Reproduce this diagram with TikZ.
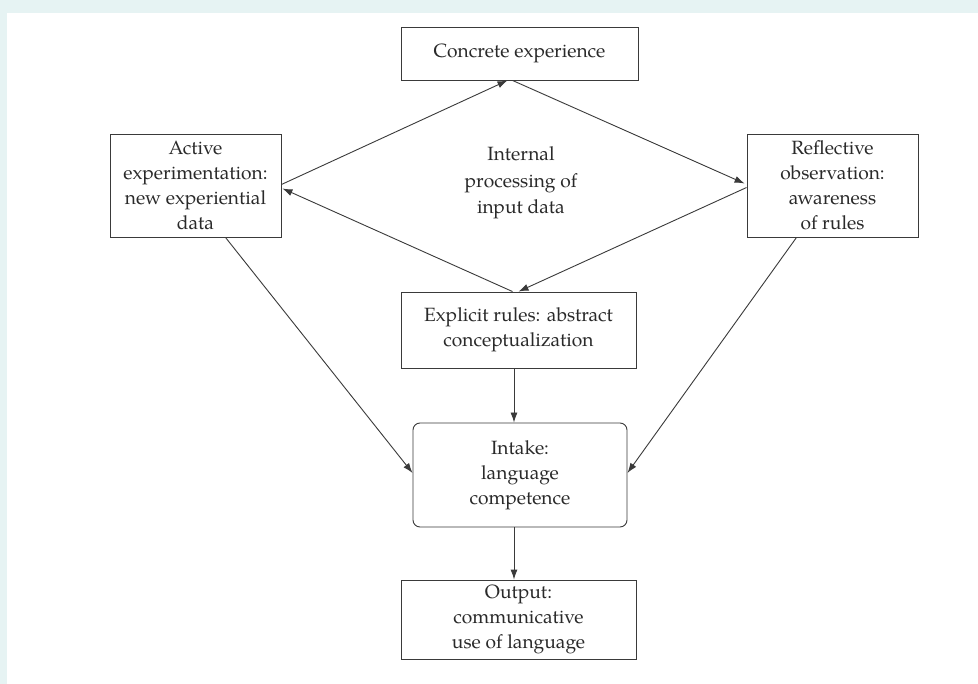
\documentclass[tikz,border=0pt]{standalone}
\usepackage{fontspec}
\setmainfont{TeX Gyre Pagella}
\usetikzlibrary{arrows.meta,calc}
\definecolor{bgcyan}{HTML}{E6F3F3}
\definecolor{ink}{HTML}{2A2A2A}
\definecolor{edge}{HTML}{3A3A3A}
\begin{document}
\begin{tikzpicture}[x=1pt,y=-1pt,
  box/.style={draw=edge,line width=0.9pt,align=center,inner sep=0pt,
    font=\fontsize{19.2}{25}\selectfont,text=ink},
  conn/.style={draw=edge,line width=0.9pt},
  arr/.style={conn,-{Latex[length=10pt,width=7pt]}}]
\useasboundingbox (0,0) rectangle (978,684);
\fill[bgcyan] (0,0) rectangle (978,684);
\fill[white] (7,13) rectangle (978,684);

\node[box,minimum width=237pt,minimum height=53pt] (cx) at (519.5,53.5) {Concrete experience};
\node[box,minimum width=171pt,minimum height=103pt] (act) at (195.5,185.5)
  {Active\\experimentation:\\new experiential\\data};
\node[box,minimum width=171pt,minimum height=103pt] (ref) at (832.5,185.5)
  {Reflective\\observation:\\awareness\\of rules};
\node[box,minimum width=235pt,minimum height=76pt] (exp) at (518.5,330)
  {Explicit rules: abstract\\conceptualization};
\node[box,rounded corners=7pt,minimum width=214pt,minimum height=104pt] (intk) at (520,475)
  {Intake:\\language\\competence};
\node[box,minimum width=235pt,minimum height=79pt] (out) at (518.5,619.5)
  {Output:\\communicative\\use of language};
\node[align=center,inner sep=0pt,font=\fontsize{19.2}{26.5}\selectfont,text=ink] (mid) at (521,183)
  {Internal\\processing of\\input data};

\coordinate (v1) at ($(exp.south)+(-4.5,0)$);
\coordinate (v2) at ($(intk.south)+(-6,0)$);

\draw[arr] ($(act.east)+(0,-1)$) -- ($(cx.south)+(-12,0)$);
\draw[arr] ($(cx.south)+(-7,0)$) -- ($(ref.west)+(-2,-2)$);
\draw[arr] ($(ref.west)+(0,2)$) -- (exp.north);
\draw[arr] ($(exp.north)+(-6,0)$) -- ($(act.east)+(1,3)$);
\draw[arr] ($(act.south)+(30,0)$) -- ($(intk.west)+(0,-2)$);
\draw[arr] ($(ref.south)+(-36,0)$) -- ($(intk.east)+(0,-2)$);
\draw[arr] (v1) -- (v1 |- intk.north);
\draw[arr] (v2) -- (v2 |- out.north);
\end{tikzpicture}
\end{document}
